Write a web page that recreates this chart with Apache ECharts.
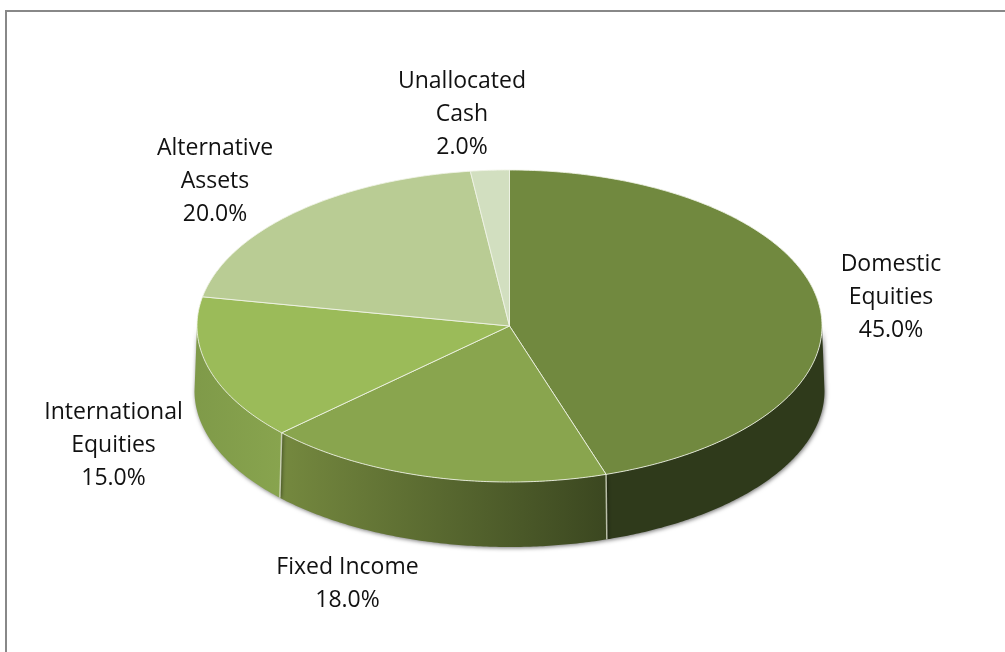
<!DOCTYPE html>
<html>
<head>
<meta charset="utf-8">
<style>html,body{margin:0;padding:0;background:#fff}#c{width:1005px;height:652px}</style>
<script src="https://cdn.jsdelivr.net/npm/echarts@6/dist/echarts.min.js"></script>
</head>
<body>
<div id="c"></div>
<script>
const categories = ['Domestic\nEquities', 'Fixed Income', 'International\nEquities', 'Alternative\nAssets', 'Unallocated\nCash'];
const values = [45.0, 18.0, 15.0, 20.0, 2.0];
const topColors = ['#71893f', '#89a54e', '#9bbb59', '#b9cc94', '#d2dfc0'];
const sideStops = [
  ['#2f3a1b', '#2f3a1b'],
  ['#75893f', '#3b4720'],
  ['#7f9a49', '#88a44e'],
  ['#9bbb59', '#9bbb59'],
  ['#d2dfc0', '#d2dfc0']
];
const labelCentres = [[891, 297], [347.5, 584], [113.5, 445], [215, 181], [462, 114]];

const CX = 509.5, CY = 326, RX = 312.5, RY = 156, DEPTH = 65, FLARE = 2.5;
const total = values.reduce((a, b) => a + b, 0);
const toAngle = v => echarts.number.linearMap(v, [0, total], [0, Math.PI * 2]);
const startOf = i => values.slice(0, i).reduce((a, b) => a + b, 0);
const pt = (t, dy, grow) => [CX + (RX + (grow || 0)) * Math.sin(t), CY - RY * Math.cos(t) + (dy || 0)];
const arc = (a, b, dy, grow) => {
  const n = Math.max(2, Math.ceil(Math.abs(b - a) / 0.01));
  const out = [];
  for (let k = 0; k <= n; k++) out.push(pt(a + (b - a) * k / n, dy, grow));
  return out;
};
const fmt = v => v.toFixed(1) + '%';
const dataset = values.map((v, i) => [i, v]);

const option = {
  animation: false,
  backgroundColor: '#ffffff',
  graphic: [{
    type: 'polyline',
    silent: true,
    shape: { points: [[6, 652], [6, 11], [1005, 11]] },
    style: { stroke: '#888888', lineWidth: 2, fill: null }
  }],
  series: [
    {
      type: 'custom', coordinateSystem: 'none', silent: true, z: 1, data: dataset,
      renderItem(params, api) {
        const i = api.value(0);
        const a = toAngle(startOf(i));
        const b = toAngle(startOf(i) + api.value(1));
        const a2 = Math.max(a, Math.PI / 2), b2 = Math.min(b, Math.PI * 1.5);
        if (b2 <= a2) return { type: 'group', children: [] };
        const pts = arc(a2, b2, 0, 0).concat(arc(b2, a2, DEPTH, FLARE));
        return {
          type: 'polygon',
          shape: { points: pts },
          style: {
            fill: new echarts.graphic.LinearGradient(0, 0, 1, 0, [
              { offset: 0, color: sideStops[i][0] },
              { offset: 1, color: sideStops[i][1] }
            ]),
            shadowBlur: 4, shadowColor: 'rgba(0,0,0,0.55)', shadowOffsetX: 1, shadowOffsetY: 1
          }
        };
      }
    },
    {
      type: 'custom', coordinateSystem: 'none', silent: true, z: 2, data: dataset,
      renderItem(params, api) {
        const i = api.value(0);
        const a = toAngle(startOf(i));
        const b = toAngle(startOf(i) + api.value(1));
        const children = [{
          type: 'polygon',
          shape: { points: [[CX, CY]].concat(arc(a, b, 0, 0)) },
          style: { fill: topColors[i], stroke: 'rgba(240,243,230,0.85)', lineWidth: 1, lineJoin: 'round' }
        }];
        if (b > Math.PI / 2 && b < Math.PI * 1.5) {
          const p = pt(b, 0, 0), q = pt(b, DEPTH, FLARE);
          children.push({
            type: 'line',
            shape: { x1: p[0], y1: p[1], x2: q[0], y2: q[1] },
            style: { stroke: 'rgba(225,230,210,0.75)', lineWidth: 1.5 }
          });
        }
        return { type: 'group', children };
      }
    },
    {
      type: 'custom', coordinateSystem: 'none', silent: true, z: 3, data: dataset,
      renderItem(params, api) {
        const i = api.value(0);
        const c = labelCentres[i];
        return {
          type: 'text',
          style: {
            text: categories[i] + '\n' + fmt(api.value(1)),
            x: c[0], y: c[1],
            align: 'center', verticalAlign: 'middle',
            font: '23px "Open Sans", sans-serif', lineHeight: 33, fill: '#111111'
          }
        };
      }
    }
  ]
};
echarts.init(document.getElementById('c')).setOption(option);
</script>
</body>
</html>
